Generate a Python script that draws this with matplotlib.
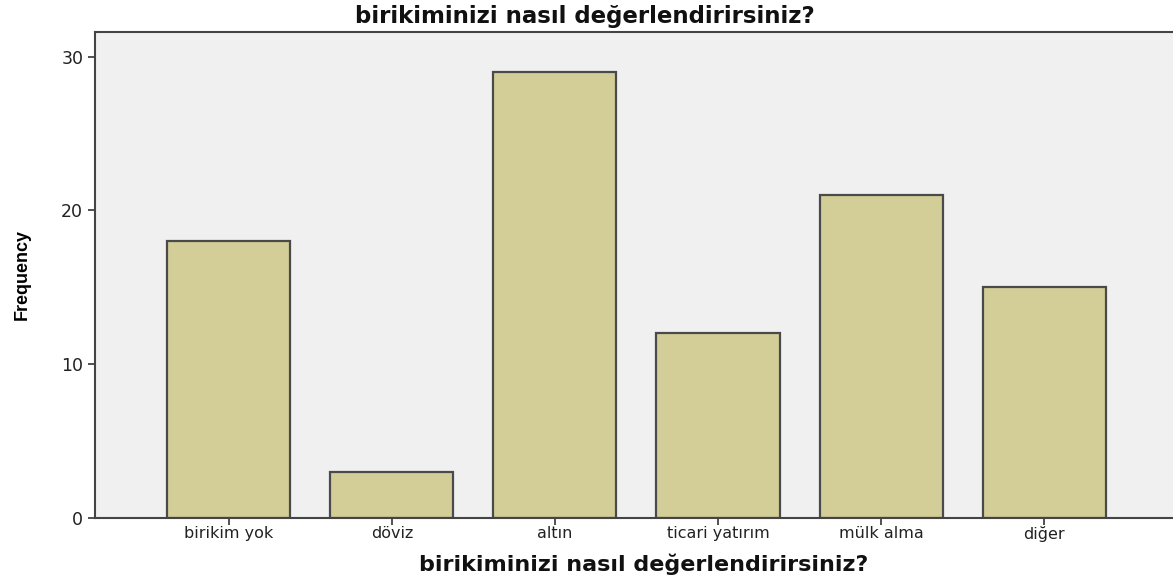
import matplotlib.pyplot as plt

categories = ["birikim yok", "döviz", "altın", "ticari yatırım", "mülk alma", "diğer"]
frequency = [18, 3, 29, 12, 21, 15]
yticks = [0, 10, 20, 30]
title = "birikiminizi nasıl değerlendirirsiniz?"

plt.rcParams["font.family"] = ["DejaVu Sans"]

fig = plt.figure(figsize=(11.73, 5.77), dpi=100)
ax = fig.add_axes([95 / 1173, 59 / 577, 1 - 95 / 1173, (518 - 32) / 577])
ax.set_facecolor("#f0f0f0")

x = list(range(len(categories)))
ax.bar(x, frequency, width=0.755, color="#d3ce97", edgecolor="#4a4a4a", linewidth=1.6)

ax.set_xlim(-0.82, 5.79)
ax.set_ylim(0, 31.6)
ax.set_xticks(x)
ax.set_xticklabels(categories, fontsize=11.5, color="#222222")
ax.set_yticks(yticks)
ax.set_yticklabels([str(v) for v in yticks], fontsize=12.5, color="#222222")
ax.tick_params(axis="both", direction="out", length=5, width=1.2, color="#333333")
ax.tick_params(axis="x", pad=1)

for side in ["left", "bottom", "top"]:
    ax.spines[side].set_color("#444444")
    ax.spines[side].set_linewidth(1.5)
ax.spines["right"].set_visible(False)

ax.set_ylabel("Frequency", fontsize=13, fontweight="bold",
              family=["Liberation Sans Narrow", "Liberation Sans", "DejaVu Sans"])
ax.yaxis.set_label_coords(-64 / 1078, 0.5)
fig.text(644 / 1173, 1 - 564 / 577, title, ha="center", va="center",
         fontsize=16, fontweight="bold", color="#111111")
fig.text(585 / 1173, 1 - 16 / 577, title, ha="center", va="center",
         fontsize=16.5, fontweight="bold", color="#111111")

fig.savefig("out.png", dpi=100)
